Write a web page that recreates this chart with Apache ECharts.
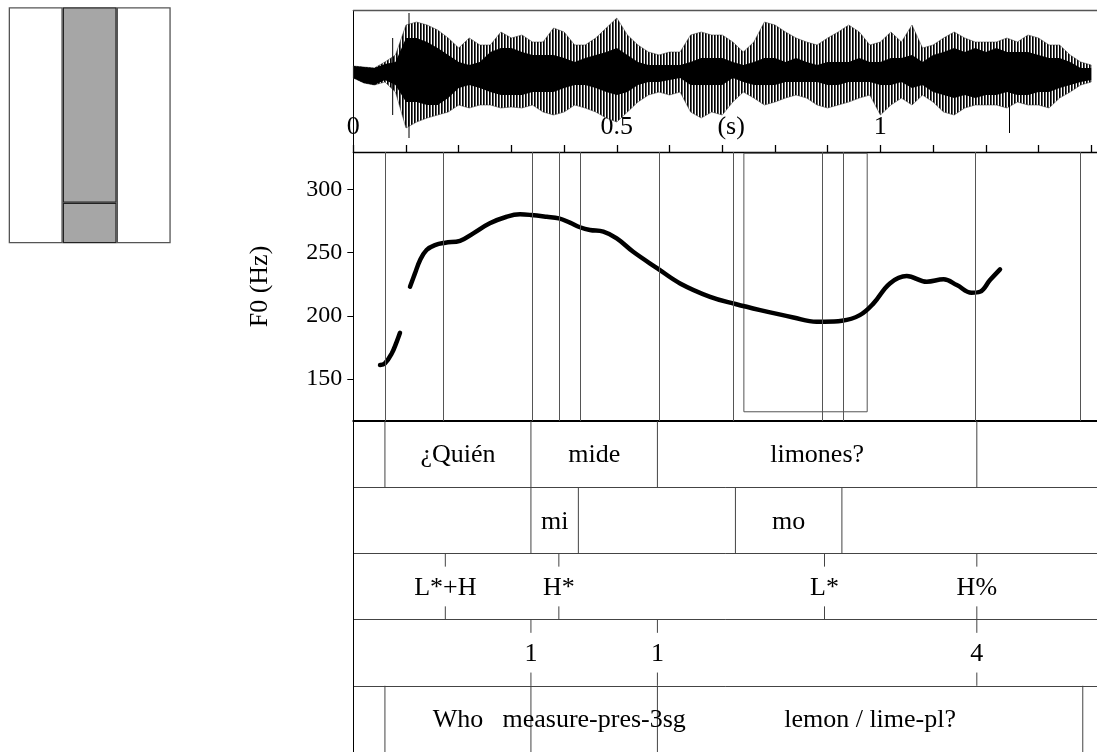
<!DOCTYPE html>
<html><head><meta charset="utf-8">
<script src="https://cdn.jsdelivr.net/npm/echarts@6/dist/echarts.min.js"></script>
<style>html,body{margin:0;padding:0;background:#fff}#c{width:1097px;height:752px}</style>
</head><body><div id="c"></div>
<script>
// ---------- data ----------
const timeMax = 1.411;
const timeTicks = [0,0.1,0.2,0.3,0.4,0.5,0.6,0.7,0.8,0.9,1.0,1.1,1.2,1.3,1.4];
const timeLabelValues = [0,0.5,1];

const waveTime = [0.00,0.02,0.04,0.06,0.08,0.10,0.12,0.14,0.16,0.18,0.20,0.22,0.24,0.26,0.28,0.30,0.32,0.34,0.36,0.38,0.40,0.42,0.44,0.46,0.48,0.50,0.52,0.54,0.56,0.58,0.60,0.62,0.64,0.66,0.68,0.70,0.72,0.74,0.76,0.78,0.80,0.82,0.84,0.86,0.88,0.90,0.92,0.94,0.96,0.98,1.00,1.02,1.04,1.06,1.08,1.10,1.12,1.14,1.16,1.18,1.20,1.22,1.24,1.26,1.28,1.30,1.32,1.34,1.36,1.38,1.40];
const waveOuterTop = [6,5,4,10,17,47,50,47,42,34,24,34,27,27,40,34,37,30,30,44,40,27,27,34,44,54,37,27,20,17,20,20,37,40,37,37,30,20,30,50,47,40,34,30,27,34,40,47,40,27,30,40,30,47,24,27,34,40,34,30,30,30,34,30,37,34,27,27,17,10,7];
const waveOuterBottom = [-6,-11,-13,-10,-20,-56,-50,-46,-43,-40,-33,-36,-33,-33,-36,-35,-36,-33,-40,-43,-40,-33,-36,-40,-46,-50,-40,-30,-23,-20,-23,-20,-40,-46,-40,-43,-30,-20,-26,-33,-30,-26,-23,-26,-33,-36,-33,-30,-26,-23,-43,-33,-26,-33,-23,-30,-40,-43,-36,-33,-33,-33,-36,-30,-33,-33,-36,-26,-20,-13,-10];
const waveCoreTop = [6,5,4,8,10,34,34,30,24,17,10,7,10,20,24,24,20,17,17,17,14,10,14,17,20,24,17,10,7,7,7,7,10,14,14,14,10,7,10,14,14,10,14,10,7,10,10,10,14,10,10,14,14,17,10,17,20,24,20,24,20,24,20,20,20,17,14,14,10,4,4];
const waveCoreBottom = [-6,-11,-13,-8,-13,-30,-30,-33,-33,-26,-16,-13,-16,-20,-23,-23,-23,-20,-20,-20,-16,-13,-13,-16,-20,-23,-20,-13,-10,-10,-8,-6,-13,-13,-13,-13,-6,-10,-13,-13,-13,-10,-10,-10,-10,-13,-13,-10,-10,-10,-13,-13,-10,-16,-13,-20,-23,-26,-23,-26,-23,-23,-20,-23,-23,-20,-20,-16,-13,-10,-8];
const waveSpikes = [[0.1057,59,-66],[0.0747,34,-43],[1.245,0,-61]];

const f0Times  = [0.0507,0.060,0.0729,0.0823,0.0886,0.098,0.1076,0.117,0.1266,0.139,0.155,0.1746,0.2025,0.2277,0.259,0.291,0.3163,0.337,0.367,0.390,0.411,0.430,0.449,0.4744,0.4998,0.531,0.577,0.620,0.677,0.725,0.772,0.835,0.879,0.894,0.927,0.961,0.987,1.018,1.050,1.088,1.120,1.145,1.173,1.189,1.208,1.227];
const f0Values = [161,162.3,170.2,179.4,186.5,null,223,233.5,244,252,255.9,257.8,259.3,265.2,273.1,278.3,280.2,279.7,278.3,277,273.6,270,267.8,266.5,261.2,250.6,237.5,225.6,215,209.3,204.5,198.7,195.3,195.3,196,200.5,209.8,225.6,231.4,226.9,228.8,224.3,218.2,219,228.2,236.7];
const f0Ticks = [150,200,250,300];
const f0Bounds = [0.060,0.1746,0.337,0.390,0.427,0.577,0.725,0.894,0.927,1.183,1.384];
const f0Box = [0.741,124.1,0.975,328.5];

const wordBounds = [0.060,0.337,0.577,1.183];
const wordLabels = [["¿Quién",0.060,0.337],["mide",0.337,0.577],["limones?",0.577,1.183]];
const syllBounds = [0.337,0.427,0.725,0.927];
const syllLabels = [["mi",0.337,0.427],["mo",0.725,0.927]];
const tonePoints = [[0.1746,"L*+H"],[0.390,"H*"],[0.894,"L*"],[1.183,"H%"]];
const breakPoints = [[0.337,"1"],[0.577,"1"],[1.183,"4"]];
const glossBounds = [0.060,0.337,0.577,1.384];
const glossLabels = [["Who",0.060,0.337],["measure-pres-3sg",0.337,0.577],["lemon / lime-pl?",0.577,1.384]];

const miniCols = ['a','b','c'];
const miniLower = [1,0.172,1];
const miniUpper = [null,0.828,null];

// ---------- build ----------
const SERIF = "'Liberation Serif','Times New Roman',serif";
const tierItems = [];
wordBounds.forEach(t=>tierItems.push({k:'b',r:0,t0:t}));
wordLabels.forEach(l=>tierItems.push({k:'L',r:0,t0:l[1],t1:l[2],s:l[0]}));
syllBounds.forEach(t=>tierItems.push({k:'b',r:1,t0:t}));
syllLabels.forEach(l=>tierItems.push({k:'L',r:1,t0:l[1],t1:l[2],s:l[0]}));
tonePoints.forEach(p=>tierItems.push({k:'P',r:2,t0:p[0],s:p[1]}));
breakPoints.forEach(p=>tierItems.push({k:'P',r:3,t0:p[0],s:p[1]}));
glossBounds.forEach(t=>tierItems.push({k:'b',r:4,t0:t}));
glossLabels.forEach(l=>tierItems.push({k:'L',r:4,t0:l[1],t1:l[2],s:l[0]}));

const pc = document.createElement('canvas'); pc.width = 3; pc.height = 4;
const pctx = pc.getContext('2d');
pctx.fillStyle='#fff'; pctx.fillRect(0,0,3,4);
pctx.fillStyle='#000'; pctx.fillRect(0,0,1,4);
pctx.fillStyle='#555'; pctx.fillRect(1,0,1,4);
const stripe = {image: pc, repeat: 'repeat'};

function renderWave(params, api){
  if (params.dataIndex !== 0) return null;
  const outer=[], core=[];
  for (let i=0;i<waveTime.length;i++){ outer.push(api.coord([waveTime[i],waveOuterTop[i]])); core.push(api.coord([waveTime[i],waveCoreTop[i]])); }
  for (let i=waveTime.length-1;i>=0;i--){ outer.push(api.coord([waveTime[i],waveOuterBottom[i]])); core.push(api.coord([waveTime[i],waveCoreBottom[i]])); }
  const ch = [
    {type:'polygon', shape:{points:outer}, style:{fill:stripe, stroke:'#333', lineWidth:0.5}},
    {type:'polygon', shape:{points:core}, style:{fill:'#000'}}
  ];
  waveSpikes.forEach(s=>{const a=api.coord([s[0],s[1]]), b=api.coord([s[0],s[2]]);
    ch.push({type:'line', shape:{x1:a[0],y1:a[1],x2:b[0],y2:b[1]}, style:{stroke:'#000', lineWidth:1}});});
  return {type:'group', children:ch};
}

function renderTier(params, api){
  const it = tierItems[params.dataIndex];
  const txtStyle = (x,y,s)=>({type:'text', x:x, y:y, style:{text:s, fill:'#000', font:'26px '+SERIF, align:'center', verticalAlign:'middle'}});
  if (it.k==='b'){
    const a=api.coord([it.t0,it.r]), b=api.coord([it.t0,it.r+1]);
    return {type:'line', shape:{x1:a[0],y1:a[1],x2:b[0],y2:b[1]}, style:{stroke:'#444', lineWidth:1}};
  }
  if (it.k==='L'){
    const c=api.coord([(it.t0+it.t1)/2, it.r+0.5]);
    return txtStyle(c[0],c[1]+1.5,it.s);
  }
  const top=api.coord([it.t0,it.r]), bot=api.coord([it.t0,it.r+1]);
  const h=bot[1]-top[1], tk=h*0.2, c=api.coord([it.t0,it.r+0.5]);
  return {type:'group', children:[
    {type:'line', shape:{x1:top[0],y1:top[1],x2:top[0],y2:top[1]+tk}, style:{stroke:'#444',lineWidth:1}},
    {type:'line', shape:{x1:bot[0],y1:bot[1]-tk,x2:bot[0],y2:bot[1]}, style:{stroke:'#444',lineWidth:1}},
    txtStyle(c[0],c[1]+1.5,it.s)
  ]};
}

const chart = echarts.init(document.getElementById('c'), null, {renderer:'canvas'});
const L = 353.3, W = 743.7;
chart.setOption({
  backgroundColor:'#fff',
  animation:false,
  grid:[
    {left:L, top:10.7, width:W, height:141.3},
    {left:L, top:152, width:W, height:269},
    {left:L, top:421, width:W, height:337},
    {left:8.7, top:7.3, width:162, height:236}
  ],
  xAxis:[
    {gridIndex:0, type:'value', min:0, max:timeMax, position:'bottom',
     axisLine:{show:true, onZero:false, lineStyle:{color:'#000', width:1.3}},
     axisTick:{show:true, inside:true, length:7, customValues:timeTicks, lineStyle:{color:'#000', width:1.3}},
     axisLabel:{show:true, inside:true, margin:12, customValues:timeLabelValues, color:'#000', fontSize:26, fontFamily:SERIF},
     splitLine:{show:false},
     name:'(s)', nameLocation:'middle', nameGap:-38, nameMoveOverlap:false,
     nameTextStyle:{color:'#000', fontSize:26, fontFamily:SERIF, padding:[0,0,0,12]}},
    {gridIndex:0, type:'value', min:0, max:timeMax, position:'top',
     axisLine:{show:true, onZero:false, lineStyle:{color:'#555', width:1.3}}, axisTick:{show:false}, axisLabel:{show:false}, splitLine:{show:false}},
    {gridIndex:1, type:'value', min:0, max:timeMax,
     axisLine:{show:true, onZero:false, lineStyle:{color:'#000', width:2}}, axisTick:{show:false}, axisLabel:{show:false}, splitLine:{show:false}},
    {gridIndex:2, type:'value', min:0, max:timeMax, show:false},
    {gridIndex:3, type:'category', data:miniCols, show:false}
  ],
  yAxis:[
    {gridIndex:0, type:'value', min:-80, max:61.3,
     axisLine:{show:true, onZero:false, lineStyle:{color:'#000', width:1}}, axisTick:{show:false}, axisLabel:{show:false}, splitLine:{show:false}},
    {gridIndex:1, type:'value', min:116.8, max:329.5,
     axisLine:{show:true, onZero:false, lineStyle:{color:'#000', width:1}},
     axisTick:{show:true, length:6, customValues:f0Ticks, lineStyle:{color:'#000'}},
     axisLabel:{show:true, margin:11, customValues:f0Ticks, color:'#000', fontSize:24, fontFamily:SERIF},
     splitLine:{show:false},
     name:'F0 (Hz)', nameLocation:'middle', nameGap:80, nameMoveOverlap:false,
     nameTextStyle:{color:'#000', fontSize:26, fontFamily:SERIF}},
    {gridIndex:2, type:'value', min:0, max:5, interval:1, inverse:true,
     axisLine:{show:true, onZero:false, lineStyle:{color:'#000', width:1}}, axisTick:{show:false}, axisLabel:{show:false},
     splitLine:{show:true, lineStyle:{color:'#444', width:1}}},
    {gridIndex:3, type:'value', min:0, max:1, show:false}
  ],
  series:[
    {type:'custom', xAxisIndex:0, yAxisIndex:0, clip:false, renderItem:renderWave,
     data:waveTime.map((t,i)=>[t, waveOuterTop[i], waveOuterBottom[i]]), encode:{x:0, y:[1,2]}, silent:true},
    {type:'line', xAxisIndex:2, yAxisIndex:1, data:[], z:1, silent:true,
     markLine:{symbol:'none', silent:true, label:{show:false}, animation:false,
       lineStyle:{color:'#555', width:1, type:'solid'}, data:f0Bounds.map(t=>({xAxis:t}))},
     markArea:{silent:true, label:{show:false}, itemStyle:{color:'rgba(0,0,0,0)', borderColor:'#555', borderWidth:1},
       data:[[{coord:[f0Box[0],f0Box[1]]},{coord:[f0Box[2],f0Box[3]]}]]}},
    {type:'line', xAxisIndex:2, yAxisIndex:1, z:3, showSymbol:false, smooth:0.4, connectNulls:false,
     lineStyle:{color:'#000', width:4.5, cap:'round', join:'round'},
     data:f0Times.map((t,i)=>[t, f0Values[i]])},
    {type:'custom', xAxisIndex:3, yAxisIndex:2, clip:false, renderItem:renderTier,
     data:tierItems.map(it=>[it.t0, it.r]), encode:{x:0, y:1}, silent:true},
    {type:'bar', xAxisIndex:4, yAxisIndex:3, stack:'m', barWidth:'100%', barCategoryGap:0, silent:true,
     data:miniLower.map((v,i)=>({value:v, itemStyle:{color: i===1?'#a6a6a6':'#fff', borderColor:i===1?'#222':'#555', borderWidth:1.3}}))},
    {type:'bar', xAxisIndex:4, yAxisIndex:3, stack:'m', barWidth:'100%', barCategoryGap:0, silent:true,
     data:miniUpper.map(v=>v===null?'-':{value:v, itemStyle:{color:'#a6a6a6', borderColor:'#222', borderWidth:1.3}})}
  ]
});
</script>
</body></html>
